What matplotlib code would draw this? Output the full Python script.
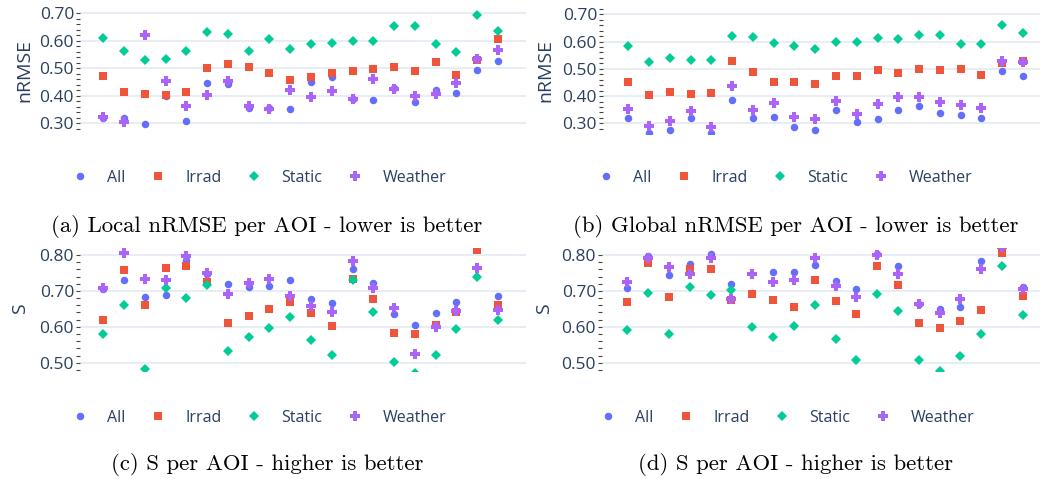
import numpy as np
import matplotlib
matplotlib.use('Agg')
import matplotlib.pyplot as plt
from matplotlib.ticker import MultipleLocator, FormatStrFormatter

# series names / colours (plotly default palette)
series = ['All', 'Irrad', 'Static', 'Weather']
colors = ['#636EFA', '#EF553B', '#00CC96', '#AB63FA']
markers = ['o', 's', 'D', 'P']
msizes = [5.4, 5.3, 5.4, 7.0]

aoi = np.arange(20)

# (a) local nRMSE per AOI
local_all = [0.318, 0.318, 0.298, 0.400, 0.309, 0.447, 0.442, 0.355, 0.355, 0.352,
             0.449, 0.468, 0.388, 0.386, 0.427, 0.379, 0.422, 0.409, 0.492, 0.525]
local_irrad = [0.472, 0.414, 0.408, 0.403, 0.412, 0.501, 0.516, 0.505, 0.481, 0.458,
               0.468, 0.482, 0.490, 0.498, 0.505, 0.490, 0.523, 0.476, 0.530, 0.607]
local_static = [0.609, 0.564, 0.529, 0.532, 0.564, 0.633, 0.626, 0.562, 0.605, 0.569,
                0.588, 0.591, 0.599, 0.599, 0.655, 0.653, 0.588, 0.559, 0.694, 0.636]
local_weather = [0.324, 0.305, 0.621, 0.454, 0.364, 0.401, 0.452, 0.363, 0.353, 0.421,
                 0.397, 0.418, 0.387, 0.461, 0.426, 0.399, 0.408, 0.445, 0.535, 0.567]

# (b) global nRMSE per AOI
global_all = [0.321, 0.263, 0.276, 0.321, 0.263, 0.385, 0.321, 0.323, 0.286, 0.274,
              0.349, 0.305, 0.317, 0.349, 0.363, 0.339, 0.330, 0.319, 0.493, 0.474]
global_irrad = [0.452, 0.404, 0.415, 0.409, 0.412, 0.529, 0.488, 0.452, 0.452, 0.444,
                0.474, 0.474, 0.496, 0.485, 0.499, 0.496, 0.499, 0.477, 0.523, 0.529]
global_static = [0.584, 0.524, 0.538, 0.532, 0.531, 0.622, 0.616, 0.596, 0.583, 0.574,
                 0.598, 0.600, 0.612, 0.608, 0.623, 0.625, 0.591, 0.591, 0.660, 0.630]
global_weather = [0.351, 0.291, 0.307, 0.346, 0.285, 0.436, 0.349, 0.376, 0.323, 0.316,
                  0.381, 0.336, 0.370, 0.395, 0.398, 0.378, 0.368, 0.355, 0.529, 0.525]

# (c) S per AOI
s1_all = [0.705, 0.730, 0.684, 0.690, 0.786, 0.746, 0.718, 0.711, 0.714, 0.731,
          0.677, 0.666, 0.760, 0.721, 0.636, 0.606, 0.638, 0.670, 0.823, 0.687]
s1_irrad = [0.619, 0.757, 0.661, 0.765, 0.768, 0.726, 0.611, 0.630, 0.650, 0.670,
            0.639, 0.602, 0.733, 0.677, 0.584, 0.581, 0.606, 0.642, 0.815, 0.661]
s1_static = [0.580, 0.661, 0.483, 0.709, 0.679, 0.717, 0.534, 0.571, 0.597, 0.626,
             0.563, 0.522, 0.731, 0.642, 0.501, 0.472, 0.521, 0.593, 0.740, 0.619]
s1_weather = [0.707, 0.806, 0.732, 0.730, 0.797, 0.751, 0.692, 0.721, 0.733, 0.686,
              0.659, 0.642, 0.783, 0.707, 0.652, 0.523, 0.599, 0.643, 0.764, 0.648]

# (d) S per AOI
s2_all = [0.709, 0.798, 0.745, 0.774, 0.802, 0.718, 0.695, 0.752, 0.752, 0.771,
          0.727, 0.704, 0.804, 0.768, 0.663, 0.651, 0.655, 0.784, 0.823, 0.711]
s2_irrad = [0.669, 0.779, 0.683, 0.762, 0.761, 0.675, 0.691, 0.675, 0.655, 0.730,
            0.672, 0.637, 0.770, 0.717, 0.612, 0.597, 0.617, 0.647, 0.806, 0.687]
s2_static = [0.592, 0.693, 0.580, 0.710, 0.688, 0.703, 0.599, 0.573, 0.603, 0.662,
             0.567, 0.509, 0.691, 0.643, 0.507, 0.477, 0.520, 0.579, 0.768, 0.633]
s2_weather = [0.724, 0.793, 0.767, 0.748, 0.791, 0.677, 0.748, 0.725, 0.731, 0.791,
              0.714, 0.684, 0.801, 0.747, 0.663, 0.639, 0.678, 0.760, 0.823, 0.706]

captions = ['(a) Local nRMSE per AOI - lower is better',
            '(b) Global nRMSE per AOI - lower is better',
            '(c) S per AOI - higher is better',
            '(d) S per AOI - higher is better']
ylabels = ['nRMSE', 'nRMSE', 'S', 'S']

W, H = 1040, 479
fig = plt.figure(figsize=(W / 100, H / 100), dpi=100)

txt_col = '#2a3f5f'
grid_col = '#E6ECF5'


def px_axes(left, top, right, bottom):
    return fig.add_axes([left / W, 1 - bottom / H, (right - left) / W, (bottom - top) / H])


# layout in pixels: axes box, ylim, xlim, legend start, ylabel x, caption centre
panels = [
    dict(box=(80, 8, 526, 134), ylim=(0.261, 0.719), xlim=(-1.12, 20.35),
         data=[local_all, local_irrad, local_static, local_weather],
         leg=(72, 178), ylab=(24, 71), cap=(267, 227)),
    dict(box=(603, 8, 1040, 134), ylim=(0.261, 0.723), xlim=(-1.22, 19.82),
         data=[global_all, global_irrad, global_static, global_weather],
         leg=(598, 178), ylab=(545, 71), cap=(796, 227)),
    dict(box=(80, 248, 526, 371), ylim=(0.477, 0.8195), xlim=(-1.12, 20.35),
         data=[s1_all, s1_irrad, s1_static, s1_weather],
         leg=(72, 418), ylab=(20, 309), cap=(267, 465)),
    dict(box=(602, 248, 1040, 371), ylim=(0.477, 0.8195), xlim=(-1.22, 19.82),
         data=[s2_all, s2_irrad, s2_static, s2_weather],
         leg=(600, 418), ylab=(544, 309), cap=(795, 465)),
]

for i, p in enumerate(panels):
    ax = px_axes(*p['box'])
    handles = []
    for vals, name, c, m, ms in zip(p['data'], series, colors, markers, msizes):
        h, = ax.plot(aoi, vals, linestyle='none', marker=m, color=c,
                     markersize=ms, markeredgewidth=0, label=name)
        handles.append(h)
    ax.set_xlim(*p['xlim'])
    ax.set_ylim(*p['ylim'])
    ax.set_xticks([])
    ax.yaxis.set_major_locator(MultipleLocator(0.1))
    ax.yaxis.set_minor_locator(MultipleLocator(0.02))
    ax.yaxis.set_major_formatter(FormatStrFormatter('%.2f'))
    ax.tick_params(axis='y', which='both', length=2.8, width=0.8, color='#444444',
                   labelsize=12.5, labelcolor=txt_col, pad=1.5)
    for lab in ax.get_yticklabels():
        lab.set_fontfamily('Open Sans')
    ax.grid(axis='y', which='major', color=grid_col, linewidth=1.3)
    ax.set_axisbelow(True)
    for s in ax.spines.values():
        s.set_visible(False)

    fig.text(p['ylab'][0] / W, 1 - p['ylab'][1] / H, ylabels[i], rotation=90,
             ha='center', va='center', fontsize=14, color=txt_col, family='Open Sans')

    fig.legend(handles=handles, loc='center left',
               bbox_to_anchor=(p['leg'][0] / W, 1 - p['leg'][1] / H),
               ncol=4, frameon=False, borderpad=0, borderaxespad=0,
               handlelength=1.0, handletextpad=1.2, columnspacing=1.55,
               prop={'family': 'Open Sans', 'size': 11.5}, labelcolor=txt_col)

    fig.text(p['cap'][0] / W, 1 - p['cap'][1] / H, captions[i], ha='center', va='center',
             fontsize=16.4, family='cmr10', color='black')

fig.savefig('out.png', dpi=100)
